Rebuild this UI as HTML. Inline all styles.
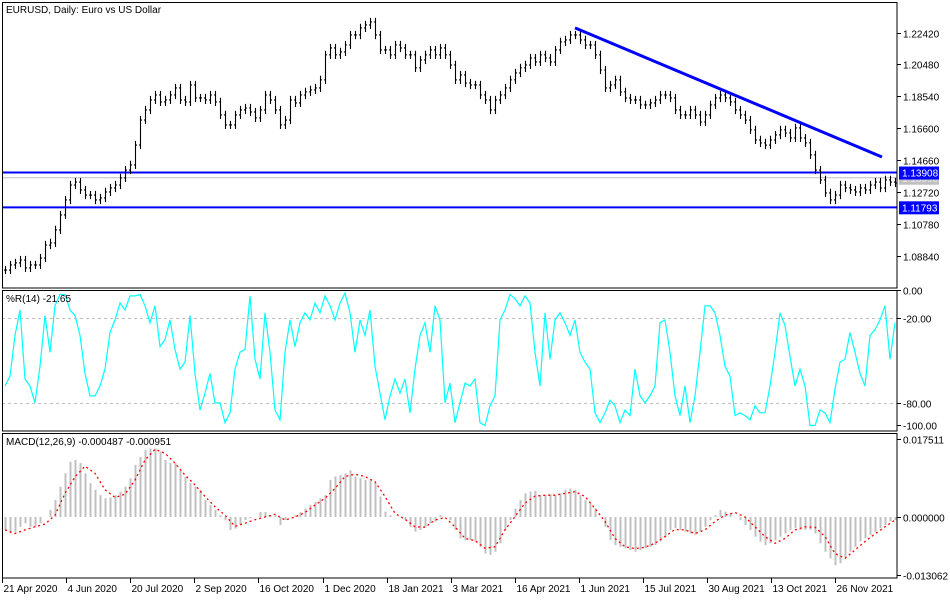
<!DOCTYPE html>
<html><head><meta charset="utf-8"><style>
html,body{margin:0;padding:0;background:#fff;}
svg{display:block;font-family:"Liberation Sans",sans-serif;font-size:10px;}
</style></head><body>
<svg id="chart" width="950" height="600">
<g id="gMain"></g>
<g id="gWpr"></g>
<g id="gMacd"></g>
<g id="gAxis"></g>
</svg>
<script>
const closes=[1.0798,1.0829,1.0841,1.0859,1.0811,1.0829,1.0829,1.0871,1.0950,1.0963,1.1042,1.1133,1.1224,1.1315,1.1333,1.1285,1.1254,1.1254,1.1224,1.1236,1.1273,1.1297,1.1315,1.1358,1.1406,1.1437,1.1558,1.1710,1.1771,1.1832,1.1862,1.1820,1.1832,1.1862,1.1905,1.1832,1.1820,1.1923,1.1844,1.1844,1.1832,1.1862,1.1820,1.1741,1.1680,1.1680,1.1741,1.1771,1.1783,1.1759,1.1723,1.1771,1.1862,1.1832,1.1771,1.1680,1.1710,1.1832,1.1814,1.1862,1.1881,1.1893,1.1905,1.1954,1.2106,1.2148,1.2106,1.2124,1.2166,1.2227,1.2227,1.2270,1.2288,1.2306,1.2227,1.2136,1.2136,1.2106,1.2166,1.2148,1.2106,1.2106,1.2027,1.2075,1.2106,1.2136,1.2106,1.2148,1.2106,1.2045,1.1954,1.1984,1.1935,1.1923,1.1923,1.1862,1.1832,1.1771,1.1832,1.1862,1.1905,1.1954,1.1996,1.2027,1.2045,1.2087,1.2063,1.2106,1.2087,1.2063,1.2136,1.2185,1.2197,1.2227,1.2227,1.2197,1.2166,1.2166,1.2106,1.2014,1.1905,1.1923,1.1954,1.1881,1.1844,1.1832,1.1832,1.1802,1.1802,1.1814,1.1832,1.1862,1.1862,1.1844,1.1771,1.1741,1.1741,1.1771,1.1741,1.1698,1.1741,1.1802,1.1844,1.1862,1.1844,1.1820,1.1771,1.1741,1.1710,1.1650,1.1589,1.1571,1.1558,1.1589,1.1619,1.1650,1.1631,1.1601,1.1662,1.1601,1.1571,1.1498,1.1406,1.1346,1.1267,1.1224,1.1254,1.1315,1.1297,1.1285,1.1273,1.1297,1.1285,1.1315,1.1333,1.1297,1.1346,1.1333,1.1327];
const wpr=[-68,-61,-32,-14,-63,-68,-80,-54,-18,-44,-11,-3,-3,-14,-18,-32,-59,-75,-75,-68,-56,-30,-21,-9,-14,-4,-4,-3,-11,-23,-11,-40,-35,-21,-42,-56,-51,-18,-59,-85,-73,-59,-80,-80,-94,-87,-56,-44,-42,-4,-49,-63,-16,-44,-85,-92,-44,-21,-40,-23,-16,-21,-9,-16,-4,-11,-21,-9,-2,-16,-44,-21,-32,-14,-54,-73,-92,-75,-63,-73,-63,-87,-56,-32,-23,-44,-11,-21,-80,-66,-94,-80,-66,-68,-63,-94,-96,-82,-75,-21,-14,-3,-6,-11,-4,-9,-44,-68,-16,-49,-21,-16,-23,-32,-21,-44,-51,-56,-87,-94,-87,-78,-82,-94,-85,-89,-56,-75,-80,-75,-68,-23,-21,-44,-75,-89,-68,-94,-75,-44,-11,-11,-16,-32,-54,-61,-89,-87,-89,-92,-82,-87,-87,-68,-44,-16,-25,-47,-68,-56,-68,-96,-96,-85,-87,-94,-70,-51,-49,-30,-44,-59,-68,-32,-28,-21,-11,-49,-23];
const macdHist=[-0.0029,-0.0037,-0.0033,-0.0022,-0.0014,-0.0022,-0.0022,-0.0014,0,0.0016,0.0038,0.0068,0.0098,0.0124,0.0128,0.0121,0.0098,0.0076,0.0061,0.0049,0.0042,0.0044,0.0049,0.0057,0.0068,0.0087,0.0117,0.0135,0.0150,0.0154,0.0154,0.0147,0.0128,0.0121,0.0121,0.0105,0.0090,0.0076,0.0068,0.0061,0.0038,0.0027,0.0016,0.0004,-0.0007,-0.0029,-0.0026,-0.0018,-0.0007,-0.0003,0,0.0011,0.0011,0.0004,0.0004,-0.0018,-0.0007,0,0.0004,0.0011,0.0019,0.0027,0.0034,0.0042,0.0049,0.0083,0.0091,0.0094,0.0098,0.0105,0.0091,0.0087,0.0083,0.0083,0.0076,0.0046,0.0012,0.0004,0,0,-0.0007,-0.0022,-0.0033,-0.0029,-0.0022,-0.0014,-0.0010,0.0004,0,-0.0007,-0.0029,-0.0048,-0.0052,-0.0052,-0.0055,-0.0067,-0.0082,-0.0085,-0.0078,-0.0059,-0.0029,-0.0007,0.0019,0.0038,0.0053,0.0057,0.0059,0.0049,0.0049,0.0051,0.0049,0.0053,0.0061,0.0064,0.0061,0.0049,0.0038,0.0031,0.0019,0,-0.0022,-0.0052,-0.0063,-0.0067,-0.0070,-0.0074,-0.0078,-0.0074,-0.0070,-0.0067,-0.0063,-0.0055,-0.0044,-0.0029,-0.0025,-0.0029,-0.0033,-0.0037,-0.0040,-0.0033,-0.0022,-0.0007,0.0004,0.0016,0.0012,0.0008,0,-0.0007,-0.0018,-0.0029,-0.0044,-0.0055,-0.0063,-0.0059,-0.0052,-0.0044,-0.0037,-0.0029,-0.0025,-0.0029,-0.0029,-0.0029,-0.0037,-0.0059,-0.0078,-0.0093,-0.0108,-0.0104,-0.0093,-0.0078,-0.0067,-0.0055,-0.0048,-0.0040,-0.0033,-0.0025,-0.0018,-0.0010,-0.0007];
const macdSignal=[-0.0029,-0.0037,-0.0029,-0.0022,-0.0016,0.0004,0.0053,0.0090,0.0114,0.0098,0.0061,0.0044,0.0051,0.0083,0.0128,0.0152,0.0143,0.0121,0.0094,0.0072,0.0046,0.0023,0.0004,-0.0021,-0.0014,-0.0006,0,0.0006,-0.0007,0,0.0010,0.0027,0.0042,0.0064,0.0091,0.0096,0.0091,0.0079,0.0046,0.0008,-0.0005,-0.0022,-0.0023,-0.0007,-0.0001,-0.0022,-0.0048,-0.0053,-0.0070,-0.0067,-0.0029,0.0001,0.0031,0.0047,0.0049,0.0049,0.0053,0.0057,0.0046,0.0019,-0.0010,-0.0048,-0.0067,-0.0071,-0.0068,-0.0059,-0.0044,-0.0028,-0.0029,-0.0037,-0.0029,-0.0010,0.0004,0.0010,0,-0.0022,-0.0044,-0.0059,-0.0048,-0.0029,-0.0022,-0.0023,-0.0044,-0.0082,-0.0093,-0.0074,-0.0055,-0.0038,-0.0022,-0.0007];
const priceTicks=[1.22420,1.20480,1.18540,1.16600,1.14660,1.12720,1.10780,1.08840];
const wprTicks=[0,-20,-80,-100];
const macdTicks=[0.017511,0,-0.013062];
const dateLabels=["21 Apr 2020","4 Jun 2020","20 Jul 2020","2 Sep 2020","16 Oct 2020","1 Dec 2020","18 Jan 2021","3 Mar 2021","16 Apr 2021","1 Jun 2021","15 Jul 2021","30 Aug 2021","13 Oct 2021","26 Nov 2021"];
const levelUpper=1.13908, levelLower=1.11793, lastPrice=1.13590;
const trendPrices=[1.2270,1.1485];
const trendIdx=[114,176];

const NS="http://www.w3.org/2000/svg";
function el(tag,attrs,parent,text){const e=document.createElementNS(NS,tag);for(const k in attrs)e.setAttribute(k,attrs[k]);if(text!==undefined)e.textContent=text;parent.appendChild(e);return e;}
const L=2,R=897;
const xOf=i=>5+i*5;
const yP=p=>32.5+(1.2242-p)*1645;
const yW=v=>290.3-v*1.408;
const yM=v=>517-v*4455;
const gM=document.getElementById('gMain'),gW=document.getElementById('gWpr'),gC=document.getElementById('gMacd'),gA=document.getElementById('gAxis');

let f;
f=el('rect',{x:2.5,y:2.5,width:894.5,height:285.5,fill:'none',stroke:'#000'},gA);

f=el('rect',{x:2.5,y:290.5,width:894.5,height:140.5,fill:'none',stroke:'#000'},gA);

f=el('rect',{x:2.5,y:433.5,width:894.5,height:144.5,fill:'none',stroke:'#000'},gA);


let t=el('text',{x:6,y:13,fill:'#000'},gM,'EURUSD, Daily:  Euro vs US Dollar');


let ln=el('line',{x1:L,x2:R,y1:yP(lastPrice),y2:yP(lastPrice),stroke:'#c0c0c0'},gM);

ln=el('line',{x1:L,x2:R,y1:yP(levelUpper),y2:yP(levelUpper),stroke:'#0000ff','stroke-width':2},gM);

ln=el('line',{x1:L,x2:R,y1:yP(levelLower),y2:yP(levelLower),stroke:'#0000ff','stroke-width':2},gM);


for(let i=0;i<closes.length;i++){
  const prev=i>0?closes[i-1]:closes[i];
  const hi=Math.max(prev,closes[i])+0.0025, lo=Math.min(prev,closes[i])-0.0025;
  const x=xOf(i)+0.5;
  const b=el('path',{d:`M${x},${yP(hi)}V${yP(lo)}M${x-1.5},${yP(prev)}H${x}M${x},${yP(closes[i])}H${x+1.5}`,stroke:'#000','stroke-width':1.1,fill:'none'},gM);
  
  
}
ln=el('line',{x1:xOf(trendIdx[0]),y1:yP(trendPrices[0]),x2:xOf(trendIdx[1])-3,y2:yP(trendPrices[1]),stroke:'#0000ff','stroke-width':3},gM);


priceTicks.forEach(p=>{const y=Math.round(yP(p))+0.5;
  const tk=el('line',{x1:R,x2:R+4,y1:y,y2:y,stroke:'#000'},gA);
  
  const tx=el('text',{x:903,y:y+4,fill:'#000'},gA,p.toFixed(5));
  
});
[[lastPrice,'#c0c0c0','#e8e8e8'],[levelUpper,'#0000ff','#fff'],[levelLower,'#0000ff','#fff']].forEach(([p,bg,fg])=>{
  const y=yP(p);
  const r=el('rect',{x:899,y:y-6,width:40,height:13,fill:bg},gA);
  
  const tx=el('text',{x:902,y:y+4,fill:fg},gA,p.toFixed(5));
  
});

[-20,-80].forEach(v=>{const g=el('line',{x1:L,x2:R,y1:Math.round(yW(v))+0.5,y2:Math.round(yW(v))+0.5,stroke:'#c0c0c0','stroke-dasharray':'3,3'},gW);
  });
let pts=wpr.map((v,i)=>`${xOf(i)},${yW(v).toFixed(1)}`).join(' ');
let pl=el('polyline',{points:pts,fill:'none',stroke:'#00ffff','stroke-width':1.2},gW);

t=el('text',{x:6,y:302,fill:'#000'},gW,'%R(14) -21.65');

wprTicks.forEach(v=>{const y=Math.min(Math.round(yW(v)),425)+0.5;
  const tk=el('line',{x1:R,x2:R+4,y1:y,y2:y,stroke:'#000'},gA);
  
  const tx=el('text',{x:903,y:y+4,fill:'#000'},gA,v.toFixed(2));
  
});

for(let i=0;i<macdHist.length;i++){
  const x=xOf(i)+0.5;
  const b=el('line',{x1:x,x2:x,y1:yM(0),y2:yM(macdHist[i]),stroke:'#c0c0c0','stroke-width':2},gC);
  
  
}
pts=macdSignal.map((v,i)=>`${5+i*10},${yM(v).toFixed(1)}`).join(' ');
pl=el('polyline',{points:pts,fill:'none',stroke:'#ff0000','stroke-width':1.3,'stroke-dasharray':'2,3'},gC);

t=el('text',{x:6,y:445,fill:'#000'},gC,'MACD(12,26,9) -0.000487 -0.000951');

macdTicks.forEach(v=>{const y=Math.round(yM(v))+0.5;
  const tk=el('line',{x1:R,x2:R+4,y1:y,y2:y,stroke:'#000'},gA);
  
  const tx=el('text',{x:903,y:y+4,fill:'#000'},gA,v.toFixed(6));
  
});

dateLabels.forEach((d,i)=>{const x=Math.round(2+i*64.1)+0.5;
  const tk=el('line',{x1:x,x2:x,y1:578,y2:583,stroke:'#000'},gA);
  
  const tx=el('text',{x:x+1,y:592,fill:'#000'},gA,d);
  
});
</script>
</body></html>
